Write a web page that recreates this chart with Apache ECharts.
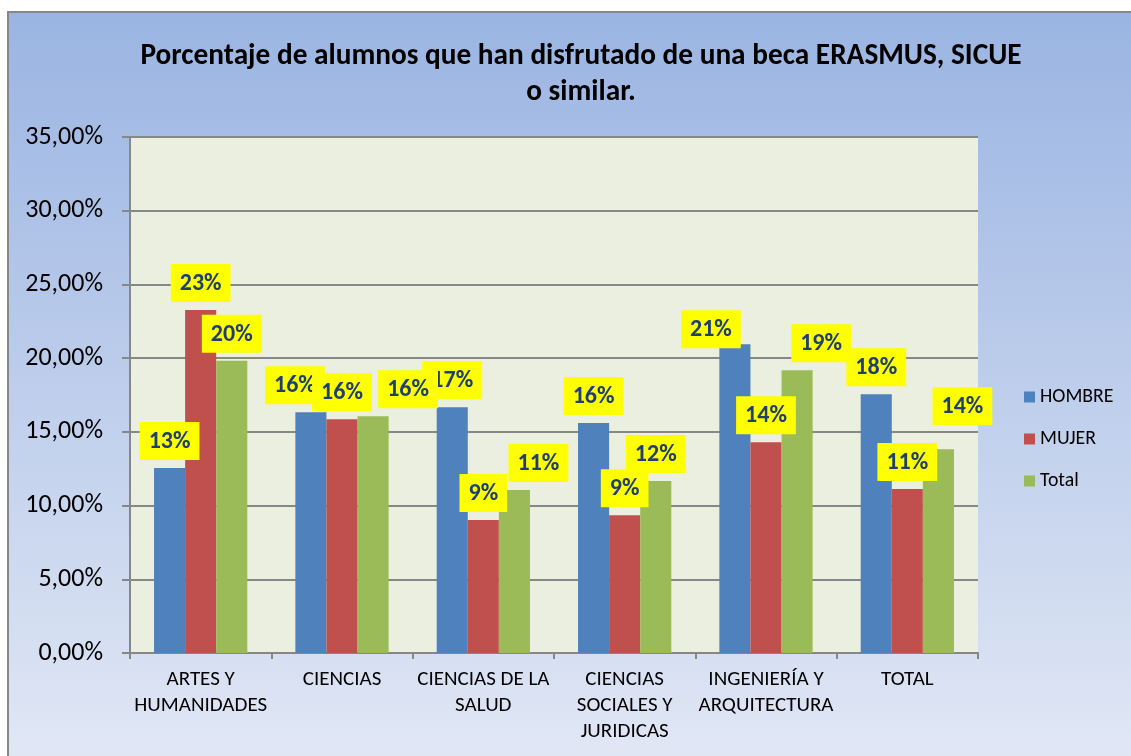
<!DOCTYPE html>
<html>
<head>
<meta charset="utf-8">
<script src="https://cdn.jsdelivr.net/npm/echarts@6/dist/echarts.min.js"></script>
<style>
html,body{margin:0;padding:0;background:#ffffff;}
#chart{width:1131px;height:756px;}
</style>
</head>
<body>
<div id="chart"></div>
<script>
const categories = ['ARTES Y\nHUMANIDADES', 'CIENCIAS', 'CIENCIAS DE LA\nSALUD', 'CIENCIAS\nSOCIALES Y\nJURIDICAS', 'INGENIERÍA Y\nARQUITECTURA', 'TOTAL'];
const hombre = [12.55, 16.33, 16.67, 15.60, 20.94, 17.55];
const mujer = [23.27, 15.85, 9.02, 9.34, 14.29, 11.13];
const total = [19.83, 16.06, 11.06, 11.67, 19.18, 13.82];
const seriesNames = ['HOMBRE', 'MUJER', 'Total'];
const yTicks = [0, 5, 10, 15, 20, 25, 30, 35];

// manual label displacements (as in the original chart)
const labelOffsets = {
  0: {1: [-16, 0], 4: [-24, 12]},
  1: {},
  2: {1: [35, 0], 2: [24, 0], 4: [24, 0], 5: [24, -16]}
};

const FONT = 'Carlito, Calibri, Lato, "Open Sans", sans-serif';
const colors = ['#4f81bd', '#c0504d', '#9bbb59'];

function buildData(arr, si) {
  return arr.map((v, i) => {
    const o = {value: v};
    if (labelOffsets[si][i]) o.label = {offset: labelOffsets[si][i]};
    return o;
  });
}

const baseLabel = {
  show: true,
  position: 'top',
  distance: 8,
  formatter: p => Math.round(p.value) + '%',
  backgroundColor: '#ffff00',
  padding: [8, 9, 6, 9],
  color: '#1f3f6e',
  fontWeight: 'bold',
  fontSize: 24,
  lineHeight: 24,
  fontFamily: FONT
};

const chart = echarts.init(document.getElementById('chart'), null, {renderer: 'canvas'});
chart.setOption({
  animation: false,
  graphic: [{
    type: 'rect',
    z: -100,
    silent: true,
    shape: {x: 8, y: 12, width: 1140, height: 760},
    style: {
      fill: new echarts.graphic.LinearGradient(0, 0, 0, 1, [
        {offset: 0, color: '#9ab4e2'},
        {offset: 1, color: '#e2e8f5'}
      ]),
      stroke: '#878787',
      lineWidth: 2
    }
  }],
  title: {
    text: 'Porcentaje de alumnos que han disfrutado de una beca ERASMUS, SICUE\no similar.',
    left: 576,
    top: 34,
    textAlign: 'center',
    textStyle: {fontFamily: FONT, fontSize: 29.3, fontWeight: 'bold', color: '#000', lineHeight: 36}
  },
  legend: {
    orient: 'vertical',
    left: 1019,
    top: 382,
    itemWidth: 11,
    itemHeight: 11,
    itemGap: 22,
    icon: 'rect',
    data: seriesNames,
    textStyle: {fontFamily: FONT, fontSize: 19.8, lineHeight: 20, color: '#000'}
  },
  grid: {
    left: 130, right: 153, top: 137, bottom: 103,
    show: true, backgroundColor: '#ebefdf', borderWidth: 0
  },
  xAxis: {
    type: 'category',
    data: categories,
    axisLine: {show: true, lineStyle: {color: '#878787', width: 2}},
    axisTick: {show: true, alignWithLabel: false, length: 6, lineStyle: {color: '#878787', width: 2}},
    axisLabel: {interval: 0, fontFamily: FONT, fontSize: 21, color: '#000', lineHeight: 26, margin: 14}
  },
  yAxis: {
    type: 'value',
    min: yTicks[0],
    max: yTicks[yTicks.length - 1],
    interval: 5,
    axisLine: {show: true, lineStyle: {color: '#878787', width: 2}},
    axisTick: {show: true, length: 8, lineStyle: {color: '#878787', width: 2}},
    splitLine: {show: true, lineStyle: {color: '#878787', width: 2}},
    axisLabel: {
      fontFamily: FONT, fontSize: 26, color: '#000', margin: 27,
      formatter: v => v.toFixed(2).replace('.', ',') + '%'
    }
  },
  series: [hombre, mujer, total].map((arr, si) => ({
    name: seriesNames[si],
    type: 'bar',
    data: buildData(arr, si),
    barGap: '0%',
    barCategoryGap: '34%',
    itemStyle: {color: colors[si]},
    label: baseLabel
  }))
});
</script>
</body>
</html>
